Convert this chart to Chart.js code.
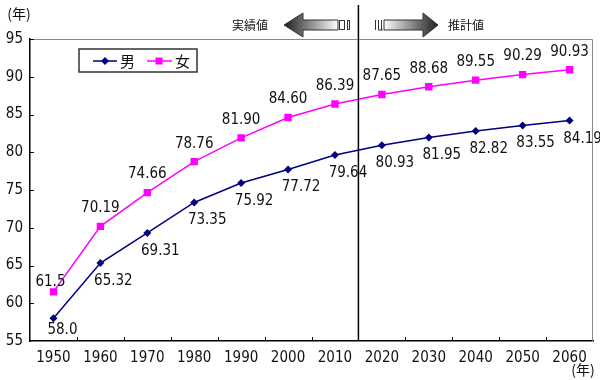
<!DOCTYPE html>
<html><head><meta charset="utf-8">
<script src="https://cdn.jsdelivr.net/npm/chart.js@4"></script>
<style>html,body{margin:0;padding:0;background:#fff}#wrap{width:600px;height:380px;position:relative}</style>
</head><body><div id="wrap"><canvas id="c" width="600" height="380"></canvas></div>
<script>
const years = ['1950','1960','1970','1980','1990','2000','2010','2020','2030','2040','2050','2060'];
const maleText = ['58.0','65.32','69.31','73.35','75.92','77.72','79.64','80.93','81.95','82.82','83.55','84.19'];
const femaleText = ['61.5','70.19','74.66','78.76','81.90','84.60','86.39','87.65','88.68','89.55','90.29','90.93'];
const male = maleText.map(Number);
const female = femaleText.map(Number);
const yMin = 55, yMax = 95, yStep = 5;
const seriesNames = ['男','女'];
const phaseNames = ['実績値','推計値'];
const unitLabel = '(年)';
const splitAfter = '2010';

const NUM_FONT = '"Liberation Sans Narrow","DejaVu Sans Condensed","Arial Narrow",sans-serif';
const JP_FONT = '"Noto Sans CJK JP","Noto Sans",sans-serif';
const MALE_C = '#000080', FEMALE_C = '#ff00ff';

const deco = {
  id: 'deco',
  afterDraw(chart) {
    const ctx = chart.ctx, a = chart.chartArea, xs = chart.scales.x, ys = chart.scales.y;
    const step = (a.right - a.left) / years.length;
    ctx.save();
    // gray top/right border
    ctx.strokeStyle = '#8a8a8a'; ctx.lineWidth = 1;
    ctx.beginPath(); ctx.moveTo(a.left, a.top + 0.5); ctx.lineTo(a.right - 0.5, a.top + 0.5); ctx.lineTo(a.right - 0.5, a.bottom); ctx.stroke();
    // inward ticks
    ctx.strokeStyle = '#000'; ctx.lineWidth = 1;
    ctx.beginPath();
    for (let i = 1; i < years.length; i++) {
      const px = Math.round(a.left + i * step) + 0.5;
      ctx.moveTo(px, a.bottom); ctx.lineTo(px, a.bottom - 4);
    }
    for (let v = yMin + yStep; v <= yMax; v += yStep) {
      const py = Math.round(ys.getPixelForValue(v)) + 0.5;
      ctx.moveTo(a.left, py); ctx.lineTo(a.left + 4, py);
    }
    ctx.stroke();
    // divider
    const si = years.indexOf(splitAfter);
    const dx = (xs.getPixelForValue(si) + xs.getPixelForValue(si + 1)) / 2;
    ctx.lineWidth = 1.5;
    ctx.beginPath(); ctx.moveTo(dx, 5); ctx.lineTo(dx, a.bottom); ctx.stroke();
    // arrows
    const cy = 25;
    let g = ctx.createLinearGradient(284, 0, 338, 0);
    g.addColorStop(0, '#1e1e1e'); g.addColorStop(1, '#ffffff');
    ctx.beginPath();
    ctx.moveTo(284, cy); ctx.lineTo(303, cy - 12); ctx.lineTo(303, cy - 5); ctx.lineTo(338, cy - 5);
    ctx.lineTo(338, cy + 5); ctx.lineTo(303, cy + 5); ctx.lineTo(303, cy + 12); ctx.closePath();
    ctx.fillStyle = g; ctx.fill(); ctx.strokeStyle = '#333'; ctx.lineWidth = 1; ctx.stroke();
    ctx.strokeRect(339.5, cy - 4.5, 5, 9); ctx.strokeRect(347.5, cy - 4.5, 2, 9);
    g = ctx.createLinearGradient(383, 0, 438, 0);
    g.addColorStop(0, '#ffffff'); g.addColorStop(1, '#1e1e1e');
    ctx.beginPath();
    ctx.moveTo(438, cy); ctx.lineTo(423, cy - 12); ctx.lineTo(423, cy - 5); ctx.lineTo(384, cy - 5);
    ctx.lineTo(384, cy + 5); ctx.lineTo(423, cy + 5); ctx.lineTo(423, cy + 12); ctx.closePath();
    ctx.fillStyle = g; ctx.fill(); ctx.stroke();
    ctx.beginPath();
    ctx.moveTo(375.5, cy - 5); ctx.lineTo(375.5, cy + 5); ctx.moveTo(378.5, cy - 5); ctx.lineTo(378.5, cy + 5); ctx.lineTo(383, cy + 5);
    ctx.moveTo(381.5, cy - 5); ctx.lineTo(381.5, cy + 5);
    ctx.stroke();
    // phase texts
    ctx.fillStyle = '#111'; ctx.font = '12px ' + JP_FONT; ctx.textBaseline = 'middle'; ctx.textAlign = 'center';
    ctx.fillText(phaseNames[0], 250, cy);
    ctx.fillText(phaseNames[1], 466, cy);
    // unit labels
    ctx.font = '14px ' + JP_FONT;
    ctx.fillText(unitLabel, 19, 14);
    ctx.fillText(unitLabel, 583, 370);
    // legend
    ctx.strokeStyle = '#333'; ctx.lineWidth = 1.5;
    ctx.strokeRect(79, 49, 118, 23);
    const ly = 61;
    ctx.lineWidth = 1.5; ctx.strokeStyle = MALE_C; ctx.fillStyle = MALE_C;
    ctx.beginPath(); ctx.moveTo(93, ly); ctx.lineTo(117, ly); ctx.stroke();
    ctx.beginPath(); ctx.moveTo(105, ly - 4); ctx.lineTo(109, ly); ctx.lineTo(105, ly + 4); ctx.lineTo(101, ly); ctx.closePath(); ctx.fill();
    ctx.strokeStyle = FEMALE_C; ctx.fillStyle = FEMALE_C;
    ctx.beginPath(); ctx.moveTo(147, ly); ctx.lineTo(172, ly); ctx.stroke();
    ctx.fillRect(155.5, ly - 3.5, 7, 7);
    ctx.fillStyle = '#111'; ctx.font = '15px ' + JP_FONT; ctx.textAlign = 'left';
    ctx.fillText(seriesNames[0], 120, ly);
    ctx.fillText(seriesNames[1], 175, ly);
    // data labels
    ctx.font = '15px ' + NUM_FONT; ctx.textAlign = 'center'; ctx.fillStyle = '#111';
    const mm = chart.getDatasetMeta(0).data, fm = chart.getDatasetMeta(1).data;
    mm.forEach((p, i) => {
      const ox = i === 0 ? 9 : 13, oy = i === 0 ? 12 : 18;
      ctx.fillText(maleText[i], p.x + ox, p.y + oy);
    });
    fm.forEach((p, i) => {
      const ox = i === 0 ? -3 : 0, oy = i === 0 ? -10 : -18;
      ctx.fillText(femaleText[i], p.x + ox, p.y + oy);
    });
    ctx.restore();
  }
};

new Chart(document.getElementById('c'), {
  type: 'line',
  data: {
    labels: years,
    datasets: [
      { label: seriesNames[0], data: male, borderColor: MALE_C, backgroundColor: MALE_C, borderWidth: 1.5,
        pointStyle: 'rectRot', pointRadius: 4, pointBorderWidth: 0, tension: 0 },
      { label: seriesNames[1], data: female, borderColor: FEMALE_C, backgroundColor: FEMALE_C, borderWidth: 1.5,
        pointStyle: 'rect', pointRadius: 5.2, pointBorderWidth: 0, tension: 0 }
    ]
  },
  options: {
    responsive: false, animation: false, devicePixelRatio: 1,
    layout: { padding: { top: 39, right: 7, left: 0, bottom: 0 } },
    plugins: { legend: { display: false }, tooltip: { enabled: false } },
    scales: {
      x: {
        type: 'category', offset: true,
        grid: { display: false, drawTicks: false },
        border: { display: true, color: '#000', width: 1.5 },
        ticks: { font: { family: NUM_FONT, size: 15 }, color: '#111', padding: 8, maxRotation: 0, autoSkip: false },
        afterFit(s) { s.height = 39; }
      },
      y: {
        min: yMin, max: yMax,
        grid: { display: false, drawTicks: false },
        border: { display: true, color: '#000', width: 1.5 },
        ticks: { stepSize: yStep, font: { family: NUM_FONT, size: 15 }, color: '#111', padding: 7 },
        afterFit(s) { s.width = 30; }
      }
    }
  },
  plugins: [deco]
});
</script></body></html>
